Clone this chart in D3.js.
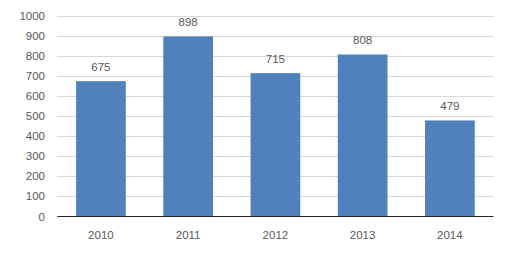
<!DOCTYPE html>
<html><head><meta charset="utf-8">
<script src="https://cdn.jsdelivr.net/npm/d3@7"></script>
<style>body{margin:0;background:#fff}svg{display:block}text{font-family:"Liberation Sans",Arial,sans-serif;font-size:11.5px;fill:#595959}</style>
</head><body><svg id="c" width="512" height="261"></svg>
<script>
const categories = ["2010","2011","2012","2013","2014"];
const values = [675, 898, 715, 808, 479];
const yTicks = [0,100,200,300,400,500,600,700,800,900,1000];

const svg = d3.select("#c");
const m = {left:57.3, right:512-493.5, top:16, bottom:261-216.5};
const W = 512, H = 261;
const x = d3.scaleBand().domain(categories).range([m.left, W-m.right]).paddingInner(0.43).paddingOuter(0.215);
const y = d3.scaleLinear().domain([0,1000]).range([H-m.bottom, m.top]);

svg.append("g").selectAll("line").data(yTicks.filter(d=>d>0)).join("line")
  .attr("x1", m.left).attr("x2", W-m.right)
  .attr("y1", d=>Math.round(y(d))+0.5).attr("y2", d=>Math.round(y(d))+0.5)
  .attr("stroke", "#d9d9d9").attr("stroke-width", 1);

svg.append("g").selectAll("text").data(yTicks).join("text")
  .attr("x", 45).attr("y", d=>y(d)).attr("dy","0.35em").attr("text-anchor","end").text(d=>d);

svg.append("g").selectAll("rect").data(values).join("rect")
  .attr("x", (d,i)=>x(categories[i])).attr("width", x.bandwidth())
  .attr("y", d=>y(d)).attr("height", d=>y(0)-y(d)).attr("fill", "#4f81bd");

svg.append("line").attr("x1", m.left).attr("x2", W-m.right)
  .attr("y1", y(0)).attr("y2", y(0)).attr("stroke", "#262626").attr("stroke-width", 1);

svg.append("g").selectAll("text").data(values).join("text")
  .attr("x", (d,i)=>x(categories[i])+x.bandwidth()/2).attr("y", d=>y(d)-10)
  .attr("text-anchor","middle").attr("fill","#404040").text(d=>d);

svg.append("g").selectAll("text").data(categories).join("text")
  .attr("x", d=>x(d)+x.bandwidth()/2).attr("y", 235).attr("dy","0.35em")
  .attr("text-anchor","middle").text(d=>d);
</script></body></html>
